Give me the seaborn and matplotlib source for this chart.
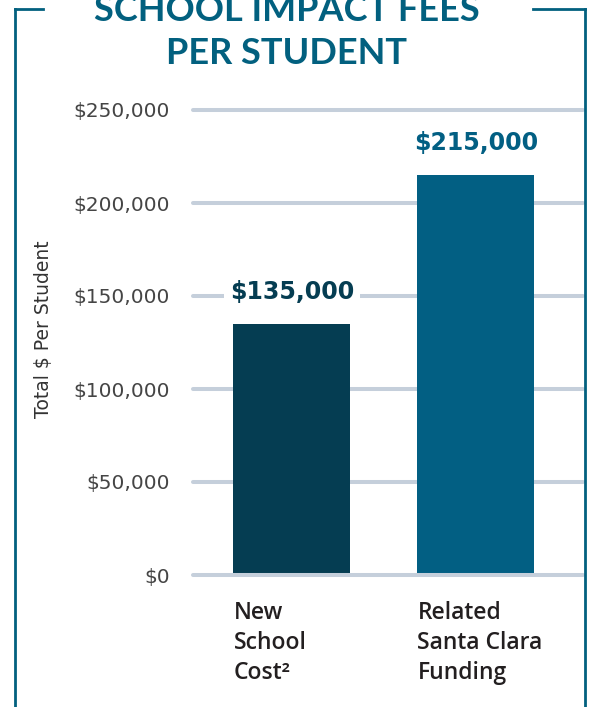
import matplotlib
matplotlib.use("Agg")
import matplotlib.pyplot as plt
from matplotlib.lines import Line2D
from matplotlib.ticker import FuncFormatter
import pandas as pd
import seaborn as sns

# data
categories = ["New\nSchool\nCost²", "Related\nSanta Clara\nFunding"]
values = [135000, 215000]
value_labels = ["$135,000", "$215,000"]
y_ticks = [0, 50000, 100000, 150000, 200000, 250000]

TEAL = "#02607f"
bar_colors = ["#053d52", "#025f83"]
GRID = "#c5cfdb"

sns.set_theme(style="white")
plt.rcParams["font.family"] = ["DejaVu Sans"]

W, H = 589, 707
fig = plt.figure(figsize=(W / 100, H / 100), dpi=100)
ax = fig.add_axes([193 / W, (H - 575) / H, (583 - 193) / W, 465 / H])

df = pd.DataFrame({"cat": categories, "val": values})
sns.barplot(data=df, x="cat", y="val", hue="cat", palette=bar_colors,
            width=0.636, legend=False, ax=ax, zorder=3, saturation=1,
            linewidth=0, edgecolor="none")

ax.set_ylim(0, 250000)
ax.set_xlim(-0.538, 1.582)
ax.set_yticks(y_ticks)
ax.yaxis.set_major_formatter(FuncFormatter(lambda v, _: f"${v:,.0f}"))
ax.tick_params(axis="y", length=0, pad=16.5, labelsize=14.5, labelcolor="#454545")
ax.tick_params(axis="x", length=0, labelbottom=False)
ax.set_xlabel("")
ax.set_ylabel("")
for s in ax.spines.values():
    s.set_visible(False)

# gridlines behind bars, zero line on top
for t in y_ticks[1:]:
    ax.axhline(t, color=GRID, lw=2.9, zorder=1, clip_on=False)
ax.axhline(0, color=GRID, lw=2.9, zorder=4, clip_on=False)

# value labels above bars
for i, (v, txt) in enumerate(zip(values, value_labels)):
    ax.annotate(txt, (i, v), xytext=(0, 23), textcoords="offset points",
                ha="center", va="center", fontsize=17, fontweight="bold",
                color=bar_colors[i], zorder=5,
                bbox=dict(boxstyle="square,pad=0.25", fc="white", ec="none"))

# category labels, left aligned with bar edge
for i, cat in enumerate(categories):
    ax.text(i - 0.318, -26 / 465, cat, transform=ax.get_xaxis_transform(),
            ha="left", va="top", fontsize=16.5, color="#231f20",
            family="Open Sans", fontweight="semibold", linespacing=1.33)

fig.text(44 / W, (H - 329.5) / H, "Total $ Per Student", rotation=90,
         ha="center", va="center", fontsize=13.5, color="#333333")

# title
fig.text(287 / W, (H - 21) / H, "SCHOOL IMPACT FEES", ha="center", va="baseline",
         fontsize=26, fontweight="bold", color=TEAL, family="Lato")
fig.text(286 / W, (H - 64) / H, "PER STUDENT", ha="center", va="baseline",
         fontsize=26, fontweight="bold", color=TEAL, family="Lato")

# frame
lw = 2.0
top = (H - 9) / H
for xs, ys in [
    ([14.7 / W, 14.7 / W], [top, -0.01]),
    ([14.7 / W, 43 / W], [top, top]),
    ([533 / W, 584.5 / W], [top, top]),
    ([584.5 / W, 584.5 / W], [top, -0.01]),
]:
    fig.add_artist(Line2D(xs, ys, transform=fig.transFigure, color=TEAL, lw=lw,
                          solid_capstyle="projecting"))

fig.savefig("out.png", dpi=100)
